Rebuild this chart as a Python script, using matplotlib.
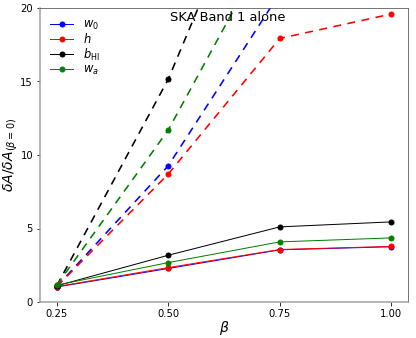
import matplotlib
matplotlib.use("Agg")
from matplotlib import pyplot as plt

beta = [0.25, 0.50, 0.75, 1.00]

# dashed curves
w0_dash = [1.05, 9.27, 21.0, 30.0]
h_dash = [1.05, 8.7, 17.93, 19.59]
bhi_dash = [1.1, 15.16, 33.2, 40.0]
wa_dash = [1.15, 11.7, 25.6, 32.0]

# solid curves
w0_solid = [1.02, 2.28, 3.55, 3.76]
h_solid = [1.05, 2.34, 3.57, 3.78]
bhi_solid = [1.1, 3.18, 5.11, 5.45]
wa_solid = [1.15, 2.68, 4.09, 4.36]

labels = [r'$w_0$', r'$h$', r'$b_{\rm HI}$', r'$w_a$']
colors = ['blue', 'red', 'black', 'green']
dashed = [w0_dash, h_dash, bhi_dash, wa_dash]
solid = [w0_solid, h_solid, bhi_solid, wa_solid]

fig = plt.figure(figsize=(416 / 72, 338 / 72), dpi=72)
ax = fig.add_subplot(111)
fig.subplots_adjust(left=40 / 416, right=408 / 416, top=1 - 8 / 338, bottom=1 - 302 / 338)

for ys, c in zip(dashed, colors):
    ax.plot(beta, ys, '--', color=c, marker='o', markersize=5, linewidth=1.6, dashes=(5, 4))
for ys, c, lab in zip(solid, colors, labels):
    ax.plot(beta, ys, '-', color=c, marker='o', markersize=5, linewidth=1, label=lab)

ax.set_ylim(0, 20)
ax.set_xticks([0.25, 0.50, 0.75, 1.00])
ax.set_yticks([0, 5, 10, 15, 20])
ax.tick_params(labelsize=10)
ax.set_xlabel(r'$\beta$', fontsize=14)
ax.xaxis.set_label_coords(0.5, -0.058)
ax.set_ylabel(r'$\delta A/\delta A_{(\beta=0)}$', fontsize=14)
ax.yaxis.set_label_coords(-0.055, 0.5)
ax.text(0.51, 0.966, 'SKA Band 1 alone', transform=ax.transAxes,
        ha='center', va='center', fontsize=13)
ax.legend(loc='upper left', frameon=False, fontsize=11.5, labelspacing=0.0)

for s in ['left', 'bottom']:
    ax.spines[s].set_color('#a0a0a0')
    ax.spines[s].set_linewidth(1.5)
for s in ['top', 'right']:
    ax.spines[s].set_color('#555555')

fig.savefig('out.png', dpi=72)
